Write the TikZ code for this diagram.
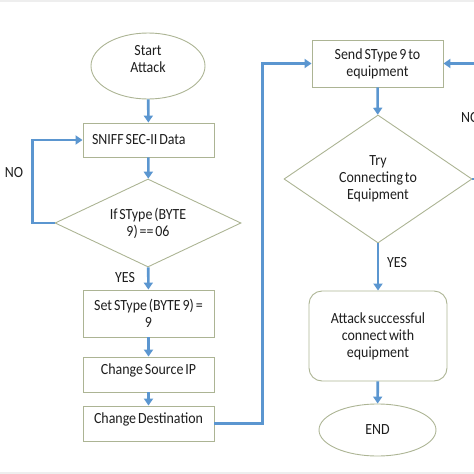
\documentclass[tikz,border=0pt]{standalone}
\usepackage{fontspec}
\setmainfont{Carlito}[WordSpace=0.6,FakeStretch=0.9]
\usetikzlibrary{shapes.geometric,arrows.meta}
\definecolor{edgec}{RGB}{172,180,148}
\definecolor{flow}{RGB}{91,150,208}
\definecolor{txt}{RGB}{30,30,30}
\definecolor{strip}{RGB}{238,238,238}
\tikzset{
  base/.style={draw=edgec, line width=0.9pt, text=txt, font=\fontsize{15.5}{17}\selectfont, align=center, inner sep=0pt},
  boxn/.style={base, rectangle, minimum width=131pt},
  dia/.style={base, diamond},
  oval/.style={base, ellipse},
  arr/.style={draw=flow, line width=2.6pt, -{Triangle[width=9pt,length=7pt]}},
  lbl/.style={text=txt, font=\fontsize{15.5}{17}\selectfont, inner sep=0pt}
}
\begin{document}
\begin{tikzpicture}[x=1pt,y=-1pt]
\useasboundingbox (0,0) rectangle (474,474);
\fill[strip] (0,0) rectangle (474,1.7);
\fill[strip] (0,472) rectangle (474,474);
% left column
\node[oval, minimum width=114pt, minimum height=66pt, text depth=15pt] (start) at (148,66) {Start\\Attack};
\node[boxn, minimum height=34pt, text width=113pt, inner xsep=9pt, align=flush left] (sniff) at (148.5,140) {SNIFF SEC-II Data};
\node[dia, aspect=2.11, minimum width=186pt, minimum height=88pt] (if1) at (148,223) {If SType (BYTE\\9) == 06};
\node[boxn, minimum height=47pt] (set) at (148.5,313.5) {Set SType (BYTE 9) =\\9};
\node[boxn, minimum height=35pt, text height=10pt, text depth=11pt] (src) at (148.5,374.5) {Change Source IP};
\node[boxn, minimum height=35pt, text height=10pt, text depth=11pt] (dst) at (148.5,423.5) {Change Destination};
% right column
\node[boxn, minimum height=47pt] (send) at (377.5,63.5) {Send SType 9 to\\equipment};
\node[dia, aspect=1.47, minimum width=188pt, minimum height=128pt] (try) at (378,179) {Try\\Connecting to\\Equipment};
\node[base, rectangle, rounded corners=13pt, minimum width=138pt, minimum height=90pt] (ok) at (378,336) {Attack successful\\connect with\\equipment};
\node[oval, minimum width=117pt, minimum height=52pt] (end) at (377.5,430) {END};
% labels
\node[lbl] (no1) at (14,173) {NO};
\node[lbl] (yes1) at (125,278) {YES};
\node[lbl] (yes2) at (397,263) {YES};
\node[lbl, anchor=west] (no2) at (461,118) {NO};
% connectors
\draw[arr] (start) -- (sniff);
\draw[arr] (sniff) -- (if1);
\draw[arr] (if1.west) -- ++(-22,0) |- (sniff.west);
\draw[arr] (if1) -- (set);
\draw[arr] (set) -- (src);
\draw[arr] (src) -- (dst);
\draw[arr] (dst.east) -- ++(48,0) |- (send.west);
\draw[arr] (send) -- (try);
\draw[arr] (try.east) -- ++(24,0) |- (send.east);
\draw[arr] (try) -- (ok);
\draw[arr] (ok) -- (end);
\end{tikzpicture}
\end{document}
